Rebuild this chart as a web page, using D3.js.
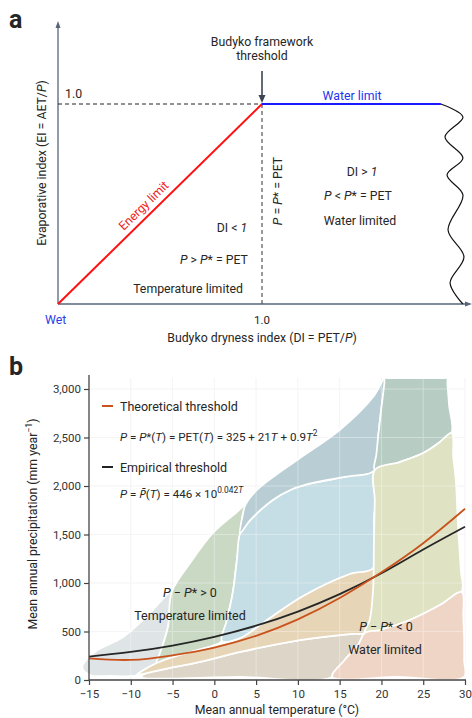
<!DOCTYPE html>
<html>
<head>
<meta charset="utf-8">
<script src="https://cdn.jsdelivr.net/npm/d3@7"></script>
<style>
  body { margin: 0; background: #fff; }
  svg text { font-family: Roboto, "Noto Sans", sans-serif; fill: #262626; }
</style>
</head>
<body>
<div id="chart"></div>
<script>
// ---------- panel a: schematic Budyko space (DI, EI) ----------
var energyLimit = [[0, 0], [1, 1]];
var waterLimit = [[1, 1], [1.877, 1]];
var aetSpread = [[1.877, 1], [1.985, 0.935], [1.897, 0.835], [1.985, 0.73], [1.907, 0.645],
                 [1.985, 0.545], [1.912, 0.37], [1.99, 0.235], [1.922, 0.105], [1.985, 0]];

// ---------- panel b: temperature vs precipitation ----------
var tempTicks = [-15, -10, -5, 0, 5, 10, 15, 20, 25, 30];
var precipTicks = [0, 500, 1000, 1500, 2000, 2500, 3000];
var curveTemps = [-15, -10, -5, 0, 5, 10, 15, 20, 25, 30];
var theoreticalP = [222, 207, 255, 335, 455, 625, 845, 1110, 1410, 1765];
var empiricalP = [241, 290, 355, 445, 560, 705, 885, 1100, 1345, 1580];

// climate regions, [T, P] outlines
var regionGrey = [[-15.8, 134], [-14.3, 289], [-10.9, 443], [-7.7, 691], [-5.1, 907], [-5.55, 546],
                  [-6.5, 278], [-7.1, 134], [-8.9, 52], [-12.5, 41], [-14.9, 52]];
var regionGreen = [[-5.1, 907], [-2.9, 1206], [-0.2, 1515], [2.7, 1732], [3.7, 1804], [3.4, 1701],
                   [3.1, 1515], [2.7, 1237], [2.2, 897], [1.5, 619], [0.9, 402], [-0.2, 351],
                   [-4.1, 258], [-6.9, 175], [-6.5, 278], [-5.55, 546]];
var regionDarkBlue = [[3.7, 1804], [5.1, 1959], [9.9, 2268], [15.0, 2577], [19.0, 2918], [20.4, 3113],
                      [20.0, 2810], [19.6, 2505], [19.2, 2165], [15.6, 2093], [11.8, 2031], [9.1, 1959],
                      [7.0, 1856], [4.3, 1649], [3.1, 1515], [3.4, 1701]];
var regionDarkGreen = [[20.4, 3113], [20.9, 3113], [24.1, 3113], [27.4, 3113], [27.85, 3113],
                       [27.9, 3050], [28.1, 2830], [28.4, 2546], [26.8, 2440], [25.0, 2340],
                       [22.2, 2247], [19.2, 2165], [19.4, 2330], [19.6, 2505], [20.0, 2810], [20.35, 3060]];
var regionLightBlue = [[3.1, 1515], [4.3, 1649], [7.0, 1856], [9.1, 1959], [11.8, 2031], [15.6, 2093],
                       [19.2, 2165], [19.1, 1649], [19.0, 1155], [16.2, 1093], [10.6, 866], [5.8, 588],
                       [3.1, 433], [0.9, 402], [1.5, 619], [2.2, 897], [2.7, 1237]];
var regionYellow = [[19.2, 2165], [22.2, 2247], [25.0, 2340], [26.8, 2440], [28.4, 2546], [28.6, 2300],
                    [28.9, 2062], [29.2, 1546], [29.5, 1134], [29.6, 907], [27.0, 773], [23.4, 619],
                    [19.8, 515], [18.0, 485], [18.6, 619], [19.0, 928], [19.1, 1443], [19.2, 1850]];
var regionSalmon = [[18.0, 485], [19.8, 515], [23.4, 619], [27.0, 773], [29.6, 907], [29.8, 650],
                    [29.9, 412], [29.9, 200], [29.9, 31], [22.0, 31], [14.1, 31], [15.6, 206], [17.2, 361]];
var regionTaupe = [[-8.7, 31], [-8.1, 72], [-5.3, 124], [-1.7, 186], [3.1, 289], [10.25, 412],
                   [16.2, 474], [18.0, 485], [17.2, 361], [15.6, 206], [14.1, 31], [3.0, 31]];
var regionBeige = [[-9.3, 52], [-6.9, 175], [-4.1, 258], [-0.2, 351], [3.1, 433], [5.8, 588],
                   [10.6, 866], [16.2, 1093], [19.0, 1155], [19.0, 825], [18.6, 567], [18.0, 485],
                   [16.2, 474], [10.25, 412], [3.1, 289], [-1.7, 186], [-5.3, 124], [-8.1, 72]];

var regions = [
  {pts: regionGrey, color: '#dfe4e6'},
  {pts: regionGreen, color: '#c9d9c4'},
  {pts: regionTaupe, color: '#ddd6c8'},
  {pts: regionBeige, color: '#e7d5b7'},
  {pts: regionLightBlue, color: '#c5dde4'},
  {pts: regionDarkBlue, color: '#b9cdd5'},
  {pts: regionDarkGreen, color: '#b7ccc3'},
  {pts: regionYellow, color: '#dfe3c3'},
  {pts: regionSalmon, color: '#efd5c6'}
];

var svg = d3.select('#chart').append('svg')
            .attr('width', 472)
            .attr('height', 718);

// small helper for mixed italic / superscript text
function richText(g, x, y, parts, size, anchor) {
  var t = g.append('text')
           .attr('x', x).attr('y', y)
           .attr('font-size', size)
           .attr('text-anchor', anchor || 'start');
  parts.forEach(function(p) {
    var s = t.append('tspan').text(p[0]);
    if (p[1] && p[1].indexOf('i') >= 0) s.attr('font-style', 'italic');
    if (p[1] && p[1].indexOf('s') >= 0) s.attr('baseline-shift', 'super').attr('font-size', size * 0.72);
  });
  return t;
}

// squeeze a text to the width seen in the figure by tightening its letter spacing
function fitWidth(t, width) {
  var w = t.node().getComputedTextLength();
  var n = t.text().length;
  if (w > width) t.attr('letter-spacing', ((width - w) / n).toFixed(2));
}

svg.append('text').attr('x', 9).attr('y', 28).text('a')
   .attr('font-size', 25).attr('font-weight', 'bold').attr('fill', '#111');
svg.append('text').attr('x', 9).attr('y', 375).text('b')
   .attr('font-size', 25).attr('font-weight', 'bold').attr('fill', '#111');

// ================= panel a =================
var fsA = 12.3;
var xA = d3.scaleLinear().domain([0, 1]).range([58, 262]);
var yA = d3.scaleLinear().domain([0, 1]).range([304, 104]);
var gA = svg.append('g');
var axisCol = '#56657a';

gA.append('line').attr('x1', xA(0)).attr('y1', yA(0)).attr('x2', xA(0)).attr('y2', 26)
  .attr('stroke', axisCol).attr('stroke-width', 1.3);
gA.append('path').attr('d', 'M58,21 L55.5,28 L60.5,28 Z').attr('fill', axisCol);
gA.append('line').attr('x1', xA(0)).attr('y1', yA(0)).attr('x2', 468).attr('y2', yA(0))
  .attr('stroke', axisCol).attr('stroke-width', 1.3);
gA.append('path').attr('d', 'M472,304 L465,301.5 L465,306.5 Z').attr('fill', axisCol);

// EI = 1 and DI = 1 guides
gA.append('line').attr('x1', xA(0)).attr('y1', yA(1)).attr('x2', xA(1)).attr('y2', yA(1))
  .attr('stroke', '#222').attr('stroke-width', 1).attr('stroke-dasharray', '4,3');
gA.append('line').attr('x1', xA(1)).attr('y1', yA(1)).attr('x2', xA(1)).attr('y2', yA(0))
  .attr('stroke', '#555').attr('stroke-width', 1.2).attr('stroke-dasharray', '4,3');

var lineA = d3.line().x(d => xA(d[0])).y(d => yA(d[1]));
gA.append('path').datum(energyLimit).attr('d', lineA)
  .attr('fill', 'none').attr('stroke', '#ff1010').attr('stroke-width', 2);
gA.append('path').datum(waterLimit).attr('d', lineA)
  .attr('fill', 'none').attr('stroke', '#1a1aff').attr('stroke-width', 2.2);
gA.append('path').datum(aetSpread)
  .attr('d', d3.line().x(d => xA(d[0])).y(d => yA(d[1])).curve(d3.curveCatmullRom.alpha(0.5)))
  .attr('fill', 'none').attr('stroke', '#111').attr('stroke-width', 1.2);

// threshold arrow
gA.append('line').attr('x1', xA(1)).attr('y1', 71).attr('x2', xA(1)).attr('y2', 97)
  .attr('stroke', '#3b4654').attr('stroke-width', 1.6);
gA.append('path').attr('d', 'M262,103 L258.5,95 L265.5,95 Z').attr('fill', '#3b4654');

gA.append('text').attr('x', 262).attr('y', 46).attr('text-anchor', 'middle')
  .attr('font-size', fsA).text('Budyko framework');
gA.append('text').attr('x', 262).attr('y', 60).attr('text-anchor', 'middle')
  .attr('font-size', fsA).text('threshold');

gA.append('text').attr('x', 65).attr('y', 98).attr('font-size', fsA).text('1.0');
gA.append('text').attr('x', 45).attr('y', 324).attr('font-size', fsA)
  .style('fill', '#2b3ee6').text('Wet');
gA.append('text').attr('x', xA(1)).attr('y', 324).attr('text-anchor', 'middle')
  .attr('font-size', 11.5).text('1.0');
richText(gA, 262, 342, [['Budyko dryness index (DI = PET/'], ['P', 'i'], [')']], fsA, 'middle');
richText(gA, 0, 0, [['Evaporative index (EI = AET/'], ['P', 'i'], [')']], fsA, 'middle')
  .attr('transform', 'translate(46,163) rotate(-90)');

// energy / water limit labels
var ang = Math.atan2(yA(0) - yA(1), xA(1) - xA(0)) * 180 / Math.PI;
var ex = xA(0.455), ey = yA(0.455);
gA.append('text').attr('transform', `translate(${ex - 4.2},${ey - 4.3}) rotate(${-ang})`)
  .attr('text-anchor', 'middle').attr('font-size', fsA)
  .style('fill', '#f02020').text('Energy limit');
gA.append('text').attr('x', 352).attr('y', 100).attr('text-anchor', 'middle')
  .attr('font-size', fsA).style('fill', '#2233ee').text('Water limit');

richText(gA, 232, 232, [['DI < '], ['1', 'i']], fsA, 'middle');
richText(gA, 214, 264, [['P', 'i'], [' > '], ['P', 'i'], ['* = PET']], fsA, 'middle');
gA.append('text').attr('x', 188).attr('y', 293).attr('text-anchor', 'middle')
  .attr('font-size', fsA).text('Temperature limited');
richText(gA, 0, 0, [['P', 'i'], [' = '], ['P', 'i'], ['* = PET']], fsA, 'middle')
  .attr('transform', 'translate(282,191) rotate(-90)');
richText(gA, 362, 176, [['DI > '], ['1', 'i']], fsA, 'middle');
richText(gA, 358, 200, [['P', 'i'], [' < '], ['P', 'i'], ['* = PET']], fsA, 'middle');
gA.append('text').attr('x', 360).attr('y', 225).attr('text-anchor', 'middle')
  .attr('font-size', fsA).text('Water limited');

// ================= panel b =================
var x = d3.scaleLinear().domain([-15, 30]).range([89, 465]);
var y = d3.scaleLinear().domain([0, 3000]).range([680, 389]);
var gB = svg.append('g');

// light grid under the regions
var gridUnder = gB.append('g');
tempTicks.slice(1).forEach(function(t) {
  gridUnder.append('line').attr('x1', x(t)).attr('x2', x(t)).attr('y1', y(0)).attr('y2', 378)
           .attr('stroke', '#f1f1f1');
});
precipTicks.slice(1).forEach(function(p) {
  gridUnder.append('line').attr('x1', x(-15)).attr('x2', x(30)).attr('y1', y(p)).attr('y2', y(p))
           .attr('stroke', '#f1f1f1');
});

var regionLine = d3.line().x(d => x(d[0])).y(d => y(d[1]))
                   .curve(d3.curveCatmullRomClosed.alpha(0.5));
gB.selectAll('path.region')
  .data(regions)
  .enter()
  .append('path')
  .attr('class', 'region')
  .attr('d', d => regionLine(d.pts))
  .attr('fill', d => d.color)
  .attr('stroke', '#fff')
  .attr('stroke-width', 1.8)
  .attr('stroke-linejoin', 'round');

// faint grid over the regions
var gridOver = gB.append('g').attr('opacity', 0.35);
tempTicks.slice(1).forEach(function(t) {
  gridOver.append('line').attr('x1', x(t)).attr('x2', x(t)).attr('y1', y(0)).attr('y2', 378)
          .attr('stroke', '#fff');
});
precipTicks.slice(1).forEach(function(p) {
  gridOver.append('line').attr('x1', x(-15)).attr('x2', x(30)).attr('y1', y(p)).attr('y2', y(p))
          .attr('stroke', '#fff');
});

// threshold curves
var curveLine = d3.line().x((d, i) => x(curveTemps[i])).y(d => y(d)).curve(d3.curveNatural);
gB.append('path').datum(empiricalP).attr('d', curveLine)
  .attr('fill', 'none').attr('stroke', '#262626').attr('stroke-width', 1.8);
gB.append('path').datum(theoreticalP).attr('d', curveLine)
  .attr('fill', 'none').attr('stroke', '#c9531c').attr('stroke-width', 1.8);

// axes
var yAxis = d3.axisLeft(y).tickValues(precipTicks).tickFormat(d3.format(',')).tickSize(5).tickPadding(3);
var xAxis = d3.axisBottom(x).tickValues(tempTicks).tickSize(5).tickPadding(5);
var gy = gB.append('g').attr('transform', `translate(${x(-15)},0)`).call(yAxis);
var gx = gB.append('g').attr('transform', `translate(0,${y(0)})`).call(xAxis);
[gy, gx].forEach(function(g) {
  g.select('.domain').remove();
  g.selectAll('line').attr('stroke', '#444').attr('stroke-width', 1.2);
  g.selectAll('text').attr('font-size', 11.5).attr('font-family', 'Roboto, sans-serif').style('fill', '#333');
});
gB.append('line').attr('x1', x(-15)).attr('x2', x(-15)).attr('y1', y(0)).attr('y2', 375)
  .attr('stroke', '#444').attr('stroke-width', 1.3);
gB.append('line').attr('x1', x(-15)).attr('x2', x(30) + 1).attr('y1', y(0)).attr('y2', y(0))
  .attr('stroke', '#444').attr('stroke-width', 1.3);

gB.append('text').attr('x', 277).attr('y', 714).attr('text-anchor', 'middle')
  .attr('font-size', 12.3).text('Mean annual temperature (°C)');
richText(gB, 0, 0, [['Mean annual precipitation (mm year'], ['\u22121', 's'], [')']], 12.3, 'middle')
  .attr('transform', 'translate(37,524) rotate(-90)');

// legend
gB.append('line').attr('x1', 102).attr('x2', 113).attr('y1', 406).attr('y2', 406)
  .attr('stroke', '#c9531c').attr('stroke-width', 2);
gB.append('text').attr('x', 120).attr('y', 410.5).attr('font-size', 12.5).text('Theoretical threshold');
var f1 = richText(gB, 120, 441, [['P', 'i'], [' = '], ['P', 'i'], ['*('], ['T', 'i'], [') = PET('], ['T', 'i'],
                        [') = 325 + 21'], ['T', 'i'], [' + 0.9'], ['T', 'i'], ['2', 's']], 11.6);
fitWidth(f1, 199);
gB.append('line').attr('x1', 102).attr('x2', 113).attr('y1', 467).attr('y2', 467)
  .attr('stroke', '#222').attr('stroke-width', 2);
gB.append('text').attr('x', 120).attr('y', 471.5).attr('font-size', 12.5).text('Empirical threshold');
var f2 = richText(gB, 120, 498, [['P', 'i'], [' = '], ['P\u0304', 'i'], ['('], ['T', 'i'], [') = 446 \u00d7 10'],
                        ['0.042', 's'], ['T', 'is']], 11.6);
fitWidth(f2, 128);

// region labels
richText(gB, 190, 597, [['P', 'i'], [' \u2212 '], ['P', 'i'], ['* > 0']], 12.5, 'middle');
gB.append('text').attr('x', 190).attr('y', 620).attr('text-anchor', 'middle')
  .attr('font-size', 12.5).text('Temperature limited');
richText(gB, 386, 631, [['P', 'i'], [' \u2212 '], ['P', 'i'], ['* < 0']], 12.5, 'middle');
gB.append('text').attr('x', 385).attr('y', 654).attr('text-anchor', 'middle')
  .attr('font-size', 12.5).text('Water limited');
</script>
</body>
</html>
